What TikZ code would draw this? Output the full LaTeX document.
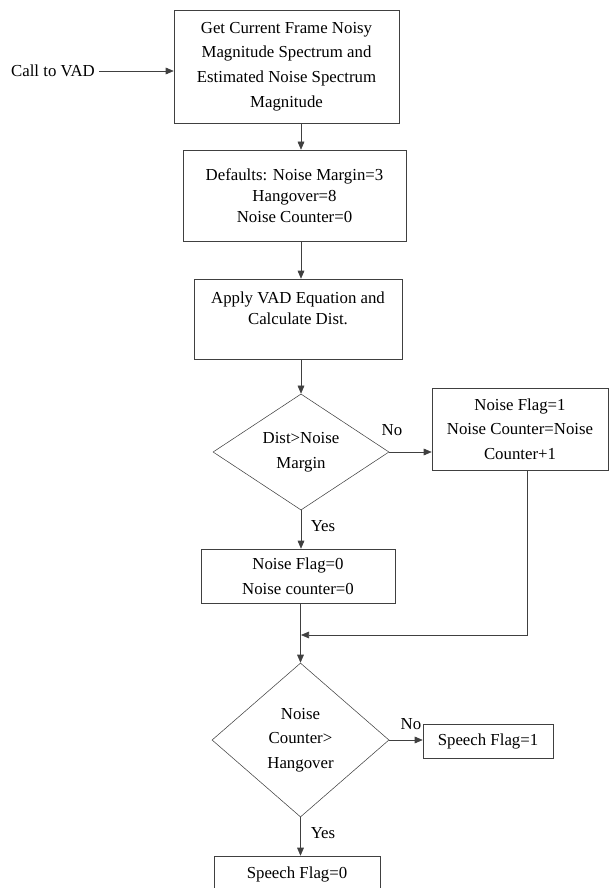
\documentclass[tikz,border=0pt]{standalone}
\usepackage{fontspec}
\setmainfont{Liberation Serif}
\usetikzlibrary{shapes.geometric,arrows.meta}

\begin{document}
\begin{tikzpicture}[x=0.75pt,y=-0.75pt,
		procbox/.style={draw=black!75,rectangle,align=center,inner sep=0pt,font=\fontsize{12.6}{18.5}\selectfont},
		tight/.style={font=\fontsize{12.6}{16}\selectfont},
		decide/.style={draw=black!75,diamond,align=center,inner sep=0pt,font=\fontsize{12.6}{18.5}\selectfont},
		flow/.style={draw=black!75,-{Triangle[length=6pt,width=5pt]}},
		lbl/.style={font=\fontsize{12.6}{14}\selectfont,inner sep=0pt}]
		\useasboundingbox (0,0) rectangle (609,888);
		% boxes and decisions
		\node[procbox,minimum width=168.75pt,minimum height=84.75pt] (frame) at (286.5,66.5) {Get Current Frame Noisy\\Magnitude Spectrum and\\Estimated Noise Spectrum\\Magnitude};
		\node[procbox,tight,minimum width=167.25pt,minimum height=68.25pt] (defaults) at (294.5,195.5) {Defaults: Noise Margin=3\\Hangover=8\\Noise Counter=0};
		\node[procbox,tight,minimum width=156pt,minimum height=60pt] (apply) at (298,319) {Apply VAD Equation and\\Calculate Dist.\\ \mbox{}};
		\node[decide,minimum width=132pt,minimum height=84pt] (dist) at (301,452) {Dist>Noise\\Margin};
		\node[procbox,minimum width=132pt,minimum height=61.5pt] (noisy) at (520,429) {Noise Flag=1\\Noise Counter=Noise\\Counter+1};
		\node[procbox,minimum width=145.5pt,minimum height=40.5pt] (speech) at (298,576) {Noise Flag=0\\Noise counter=0};
		\node[decide,minimum width=132.75pt,minimum height=115.5pt] (hang) at (300.5,740) {Noise\\Counter>\\Hangover};
		\node[procbox,minimum width=97.5pt,minimum height=25.5pt] (flagon) at (488,741) {Speech Flag=1};
		\node[procbox,minimum width=124.5pt,minimum height=27pt] (flagoff) at (297,874) {Speech Flag=0};
		% labels
		\node[lbl,inner sep=3pt] (call) at (53,71) {Call to VAD};
		\node[lbl] (no1) at (392,430) {No};
		\node[lbl] (yes1) at (323,526) {Yes};
		\node[lbl] (no2) at (411,724) {No};
		\node[lbl] (yes2) at (323,833) {Yes};
		\coordinate (turn) at (527,635);
		% connectors
		\draw[flow] (call.east) -- (call.east -| frame.west);
		\draw[flow] (frame.south -| dist.north) -- (defaults.north -| dist.north);
		\draw[flow] (defaults.south -| dist.north) -- (apply.north -| dist.north);
		\draw[flow] (apply.south -| dist.north) -- (dist.north);
		\draw[flow] (dist.east) -- (dist.east -| noisy.west);
		\draw[flow] (dist.south) -- (speech.north -| dist.south);
		\draw[flow] (noisy.south -| turn) -- (turn) -- (turn -| dist.south);
		\draw[flow] (speech.south -| hang.north) -- (hang.north);
		\draw[flow] (hang.east) -- (hang.east -| flagon.west);
		\draw[flow] (hang.south) -- (flagoff.north -| hang.south);
\end{tikzpicture}
\end{document}
